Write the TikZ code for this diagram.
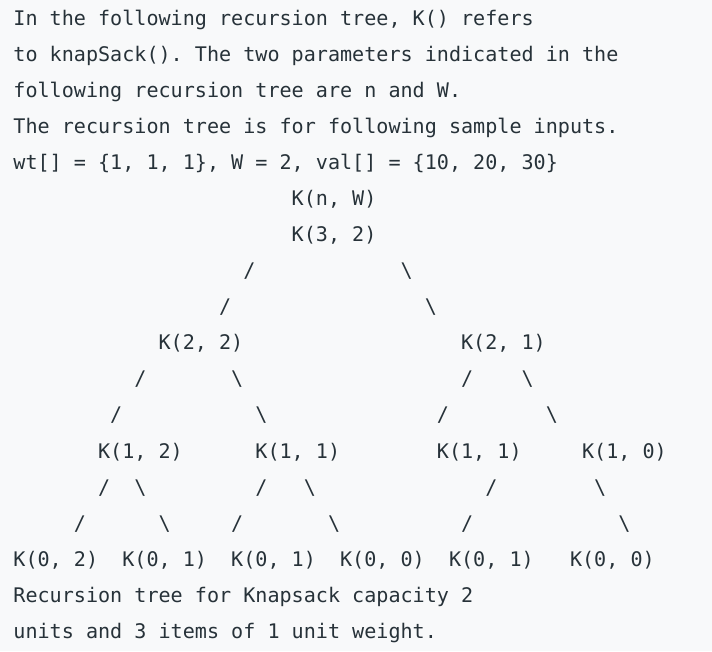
\documentclass[tikz,border=0pt]{standalone}
\usepackage{fontspec}
\newfontfamily\codefont{DejaVu Sans Mono}
\definecolor{bgcol}{HTML}{F8F9FA}
\definecolor{txtcol}{HTML}{273239}
\newcommand\tx[4]{\node[codetext] (#3) at ({13.4+12.1*#1},{625-36*#2}) {#4};}
\tikzset{codetext/.style={anchor=base west, inner sep=0pt, outer sep=0pt, text=txtcol, font=\codefont\fontsize{20.1}{24}\selectfont\frenchspacing}}
\begin{document}
\begin{tikzpicture}[x=1pt,y=1pt]
\fill[bgcol] (0,0) rectangle (712,651);
\useasboundingbox (0,0) rectangle (712,651);
% prose
\tx{0}{0}{l0}{In the following recursion tree, K() refers}
\tx{0}{1}{l1}{to knapSack(). The two parameters indicated in the}
\tx{0}{2}{l2}{following recursion tree are n and W.}
\tx{0}{3}{l3}{The recursion tree is for following sample inputs.}
\tx{0}{4}{l4}{wt[] = \{1, 1, 1\}, W = 2, val[] = \{10, 20, 30\}}
% tree
\tx{23}{5}{root}{K(n, W)}
\tx{23}{6}{k32}{K(3, 2)}
\tx{19}{7}{s7a}{/}
\tx{32}{7}{b7a}{\textbackslash}
\tx{17}{8}{s8a}{/}
\tx{34}{8}{b8a}{\textbackslash}
\tx{12}{9}{k22}{K(2, 2)}
\tx{37}{9}{k21}{K(2, 1)}
\tx{10}{10}{s10a}{/}
\tx{18}{10}{b10a}{\textbackslash}
\tx{37}{10}{s10b}{/}
\tx{42}{10}{b10b}{\textbackslash}
\tx{8}{11}{s11a}{/}
\tx{20}{11}{b11a}{\textbackslash}
\tx{35}{11}{s11b}{/}
\tx{44}{11}{b11b}{\textbackslash}
\tx{7}{12}{k12}{K(1, 2)}
\tx{20}{12}{k11a}{K(1, 1)}
\tx{35}{12}{k11b}{K(1, 1)}
\tx{47}{12}{k10}{K(1, 0)}
\tx{7}{13}{s13a}{/}
\tx{10}{13}{b13a}{\textbackslash}
\tx{20}{13}{s13b}{/}
\tx{24}{13}{b13b}{\textbackslash}
\tx{39}{13}{s13c}{/}
\tx{48}{13}{b13c}{\textbackslash}
\tx{5}{14}{s14a}{/}
\tx{12}{14}{b14a}{\textbackslash}
\tx{18}{14}{s14b}{/}
\tx{26}{14}{b14b}{\textbackslash}
\tx{37}{14}{s14c}{/}
\tx{50}{14}{b14c}{\textbackslash}
\tx{0}{15}{k02}{K(0, 2)}
\tx{9}{15}{k01a}{K(0, 1)}
\tx{18}{15}{k01b}{K(0, 1)}
\tx{27}{15}{k00a}{K(0, 0)}
\tx{36}{15}{k01c}{K(0, 1)}
\tx{46}{15}{k00b}{K(0, 0)}
% caption
\tx{0}{16}{c0}{Recursion tree for Knapsack capacity 2}
\tx{0}{17}{c1}{units and 3 items of 1 unit weight.}
\end{tikzpicture}
\end{document}
